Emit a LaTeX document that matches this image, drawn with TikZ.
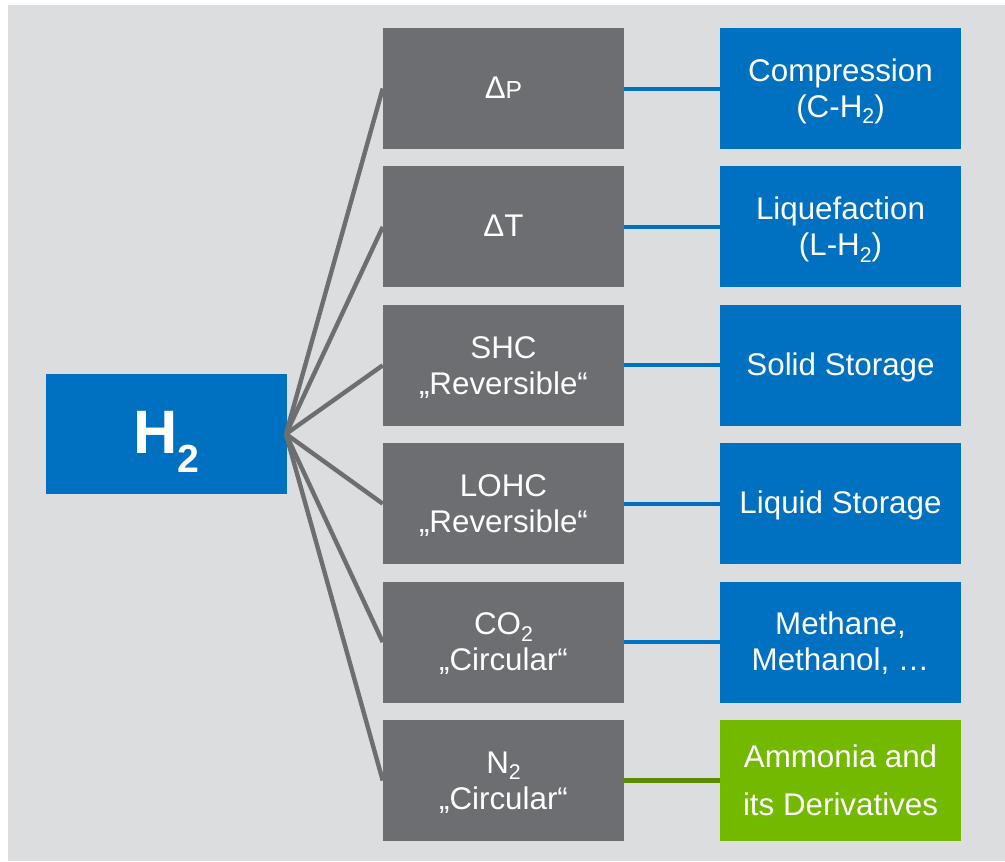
\documentclass[tikz,border=0pt]{standalone}
\usepackage{fontspec}
\setmainfont{Liberation Sans}
\definecolor{bgcol}{HTML}{DCDDDF}
\definecolor{graycol}{HTML}{6D6E71}
\definecolor{bluecol}{HTML}{0070C0}
\definecolor{greencol}{HTML}{73B900}
\definecolor{greenline}{HTML}{5A8C00}
\newcommand\subsc[1]{\raisebox{-0.2em}{\scalebox{0.68}{#1}}}
\newcommand\bigsub[1]{\raisebox{-0.31em}{\scalebox{0.64}{#1}}}
\begin{document}
\begin{tikzpicture}[x=0.75pt,y=-0.75pt,
  boxbase/.style={inner sep=0pt, draw=none, minimum width=180.75pt, minimum height=90.75pt,
    text=white, align=center, font=\fontsize{23.5}{27}\selectfont,
    text height=16.8pt, text depth=2pt},
  twoline/.style={text height=43.8pt, text depth=0.5pt},
  graybox/.style={boxbase, fill=graycol},
  bluebox/.style={boxbase, fill=bluecol},
  greenbox/.style={boxbase, fill=greencol, font=\fontsize{23.5}{36}\selectfont,
    text height=52.8pt, text depth=1pt},
  h2box/.style={boxbase, fill=bluecol, minimum height=90pt, font=\fontsize{46}{50}\selectfont\bfseries,
    text height=33pt, text depth=4.5pt},
  fanline/.style={draw=graycol, line width=3.3pt},
  blueline/.style={draw=bluecol, line width=3pt},
  greenconn/.style={draw=greenline, line width=3.5pt}]
\useasboundingbox (0,0) rectangle (1005,861);
\fill[bgcol] (8,5) rectangle (1005,861);

\node[h2box] (h2) at (166.5,434) {H\bigsub{2}};

\node[graybox] (g1) at (503.5,88.5) {Δ{\fontsize{18.5}{20}\selectfont P}};
\node[graybox] (g2) at (503.5,226.9) {ΔT};
\node[graybox, twoline] (g3) at (503.5,365.3) {SHC\\„Reversible“};
\node[graybox, twoline] (g4) at (503.5,503.7) {LOHC\\„Reversible“};
\node[graybox, twoline] (g5) at (503.5,642.1) {CO\subsc{2}\\„Circular“};
\node[graybox, twoline] (g6) at (503.5,780.5) {N\subsc{2}\\„Circular“};

\node[bluebox, twoline] (r1) at (840.5,88.5) {Compression\\(C-H\subsc{2})};
\node[bluebox, twoline] (r2) at (840.5,226.9) {Liquefaction\\(L-H\subsc{2})};
\node[bluebox] (r3) at (840.5,365.3) {Solid Storage};
\node[bluebox] (r4) at (840.5,503.7) {Liquid Storage};
\node[bluebox, twoline] (r5) at (840.5,642.1) {Methane,\\Methanol, …};
\node[greenbox] (r6) at (840.5,780.5) {Ammonia and\\its Derivatives};

\foreach \i in {1,...,6}{
  \draw[fanline] ([xshift=-1pt]h2.east) -- (g\i.west);
}
\foreach \i in {1,...,5}{
  \draw[blueline] (g\i.east) -- (r\i.west);
}
\draw[greenconn] (g6.east) -- (r6.west);
\end{tikzpicture}
\end{document}
